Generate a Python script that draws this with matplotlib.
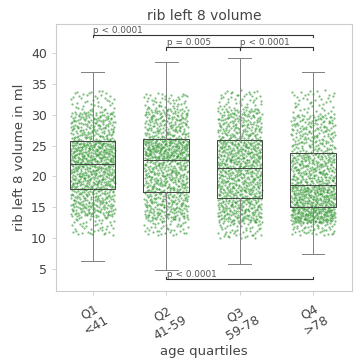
import numpy as np
import matplotlib
matplotlib.use("Agg")
import matplotlib.pyplot as plt

# Age groups and box statistics (ml)
groups = ["Q1\n<41", "Q2\n41-59", "Q3\n59-78", "Q4\n>78"]
whisker_low = [6.3, 4.9, 5.8, 7.4]
box_q1 = [17.9, 17.5, 16.5, 15.0]
box_med = [22.1, 22.7, 21.4, 18.6]
box_q3 = [25.7, 26.1, 25.9, 23.8]
whisker_high = [36.9, 38.6, 39.2, 36.9]

# Point cloud quantiles per group (probability knots -> volume)
cloud_probs = [0.0, 0.05, 0.25, 0.5, 0.75, 0.95, 1.0]
cloud_q1 = [10.5, 13.5, 17.9, 22.1, 25.7, 30.5, 34.0]
cloud_q2 = [10.5, 13.0, 17.5, 22.7, 26.1, 31.0, 33.5]
cloud_q3 = [10.0, 12.5, 16.5, 21.4, 25.9, 31.0, 34.0]
cloud_q4 = [10.5, 12.5, 15.0, 18.6, 23.8, 30.0, 34.0]
n_points = 900

# Significance brackets: (left group, right group, height, label, direction)
brackets = [
    (0, 3, 42.9, "p < 0.0001", -1),
    (1, 2, 40.9, "p = 0.005", -1),
    (2, 3, 40.9, "p < 0.0001", -1),
    (1, 3, 3.35, "p < 0.0001", 1),
]


def radical_inverse(i, base):
    """Van der Corput radical inverse of integer i in the given base."""
    f, r = 1.0, 0.0
    while i > 0:
        f /= base
        r += f * (i % base)
        i //= base
    return r


text_col = "#444444"
plt.rcParams["font.family"] = ["DejaVu Sans"]

fig = plt.figure(figsize=(3.63, 3.59), dpi=100)
ax = fig.add_axes([56 / 363, 68 / 359, 296 / 363, 267 / 359])

positions = np.arange(len(groups))
jitter_w = 0.3
for k, (pos, qs) in enumerate(zip(positions, [cloud_q1, cloud_q2, cloud_q3, cloud_q4])):
    start = 1 + k * n_points
    ids = range(start, start + n_points)
    probs = np.array([radical_inverse(i, 2) for i in ids])
    jit = np.array([radical_inverse(i, 3) for i in ids])
    yv = np.interp(probs, cloud_probs, qs)
    xv = pos + (jit - 0.5) * 2 * jitter_w
    ax.scatter(xv, yv, s=2.6, color="#1a8a1a", alpha=0.55, linewidths=0, zorder=1)

stats = []
for i in range(len(groups)):
    stats.append(dict(med=box_med[i], q1=box_q1[i], q3=box_q3[i],
                      whislo=whisker_low[i], whishi=whisker_high[i], fliers=[]))
ax.bxp(stats, positions=positions, widths=0.62, showfliers=False,
       patch_artist=False,
       boxprops=dict(color="#444444", linewidth=0.7),
       medianprops=dict(color="#444444", linewidth=0.7),
       whiskerprops=dict(color="#808080", linewidth=0.7),
       capprops=dict(color="#808080", linewidth=0.7),
       manage_ticks=False, zorder=2)

tick_h = 0.35
for a, b, h, label, d in brackets:
    ax.plot([a, a, b, b], [h + d * tick_h, h, h, h + d * tick_h],
            color="#333333", linewidth=0.8, zorder=3)
    ax.text(a + 0.01, h + 0.02, label, ha="left", va="bottom",
            fontsize=6.4, color="#555555", zorder=3)

ax.set_xlim(-0.5, 3.53)
ax.set_ylim(1.45, 44.7)
ax.set_yticks([5, 10, 15, 20, 25, 30, 35, 40])
ax.set_xticks(positions)
ax.set_xticklabels(groups, rotation=30, ha="center", fontsize=9, color=text_col)
ax.tick_params(axis="y", labelsize=9)
ax.tick_params(colors="#cccccc", length=3, width=0.6)
ax.tick_params(axis="both", labelcolor=text_col)
for sp in ax.spines.values():
    sp.set_color("#cccccc")
    sp.set_linewidth(0.8)

ax.set_title("rib left 8 volume", fontsize=10, color=text_col, pad=3)
ax.set_ylabel("rib left 8 volume in ml", fontsize=9.5, color=text_col, labelpad=4)
ax.set_xlabel("age quartiles", fontsize=9.5, color=text_col, labelpad=2)

fig.savefig("out.png", dpi=100)
